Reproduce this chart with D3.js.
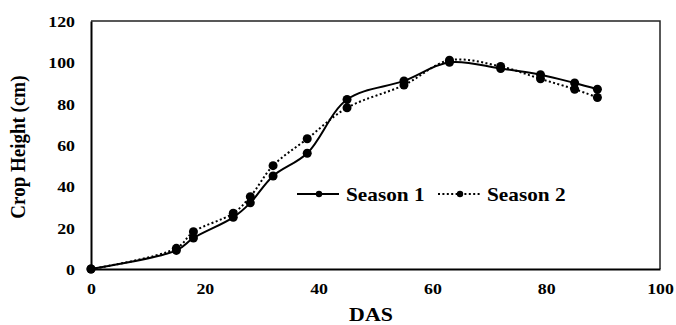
<!DOCTYPE html>
<html>
<head>
<meta charset="utf-8">
<script src="https://cdn.jsdelivr.net/npm/d3@7"></script>
<style>
  html, body { margin: 0; padding: 0; background: #fff; }
  svg { display: block; }
</style>
</head>
<body>
<svg id="chart" width="676" height="325"></svg>
<script>
// Days after sowing and crop height (cm) for the two seasons
const das = [0, 15, 18, 25, 28, 32, 38, 45, 55, 63, 72, 79, 85, 89];
const season1 = [0, 9, 15, 25, 32, 45, 56, 82, 91, 100, 97, 94, 90, 87];
const season2 = [0, 10, 18, 27, 35, 50, 63, 78, 89, 101, 98, 92, 87, 83];
const seriesNames = ["Season 1", "Season 2"];
const xTicks = [0, 20, 40, 60, 80, 100];
const yTicks = [0, 20, 40, 60, 80, 100, 120];

const W = 676, H = 325;
const m = { left: 91, right: 16, top: 21, bottom: 56 };
const FONT = "Liberation Serif";
const svg = d3.select("#chart");

const x = d3.scaleLinear().domain([0, 100]).range([m.left, W - m.right]);
const y = d3.scaleLinear().domain([0, 120]).range([H - m.bottom, m.top]);

// glyphs are drawn slightly wide, as in the original typesetting
const SX = 1.15;
function wideText(g, px, py, str, size, anchor) {
  return g.append("text")
    .attr("transform", `translate(${px},${py}) scale(${SX},1)`)
    .attr("text-anchor", anchor || "middle")
    .attr("font-family", FONT).attr("font-weight", "bold")
    .attr("font-size", size).attr("fill", "#000")
    .text(str);
}

// plot frame (top and right)
svg.append("path")
  .attr("d", `M${x(0)},${y(120)}H${x(100)}V${y(0)}`)
  .attr("fill", "none").attr("stroke", "#222").attr("stroke-width", 1.5);

// axes
const xAxis = svg.append("g").attr("transform", `translate(0,${y(0)})`)
  .call(d3.axisBottom(x).tickValues(xTicks).tickSize(0).tickPadding(0).tickFormat(d3.format("d")));
const yAxis = svg.append("g").attr("transform", `translate(${x(0)},0)`)
  .call(d3.axisLeft(y).tickValues(yTicks).tickSize(0).tickPadding(0).tickFormat(d3.format("d")));
[xAxis, yAxis].forEach(a => {
  a.select(".domain").attr("stroke", "#000").attr("stroke-width", 2);
  a.selectAll("text").remove();
});
xAxis.selectAll(".tick").each(function () {
  wideText(d3.select(this), 0, 25, d3.select(this).datum(), 15.5, "middle");
});
yAxis.selectAll(".tick").each(function () {
  wideText(d3.select(this), -16, 5.5, d3.select(this).datum(), 15.5, "end");
});

// axis titles
wideText(svg, x(49.2), 321, "DAS", 19, "middle");
svg.append("text")
  .attr("transform", `translate(25,${y(59)}) rotate(-90) scale(1,${SX})`)
  .attr("text-anchor", "middle")
  .attr("font-family", FONT).attr("font-weight", "bold")
  .attr("font-size", 19).attr("fill", "#000")
  .text("Crop Height (cm)");

// series
const line = d3.line().curve(d3.curveCatmullRom.alpha(0.5))
  .x((d, i) => x(das[i])).y(d => y(d));
const styles = [
  { dash: null, width: 2 },
  { dash: "2,2.4", width: 2 }
];
[season1, season2].forEach((vals, k) => {
  const g = svg.append("g");
  g.append("path").attr("d", line(vals))
    .attr("fill", "none").attr("stroke", "#000")
    .attr("stroke-width", styles[k].width)
    .attr("stroke-dasharray", styles[k].dash);
  g.selectAll("circle").data(vals).join("circle")
    .attr("cx", (d, i) => x(das[i])).attr("cy", d => y(d))
    .attr("r", 4.5).attr("fill", "#000");
});

// legend
const legend = svg.append("g").attr("transform", "translate(297,194)");
const legendX = [0, 141];
seriesNames.forEach((name, k) => {
  const g = legend.append("g").attr("transform", `translate(${legendX[k]},0)`);
  g.append("line").attr("x1", 0).attr("x2", 42).attr("y1", 0).attr("y2", 0)
    .attr("stroke", "#000").attr("stroke-width", 2)
    .attr("stroke-dasharray", styles[k].dash);
  g.append("circle").attr("cx", 22).attr("cy", 0).attr("r", 3.2).attr("fill", "#000");
  wideText(g, 49, 6.5, name, 18.5, "start");
});
</script>
</body>
</html>
